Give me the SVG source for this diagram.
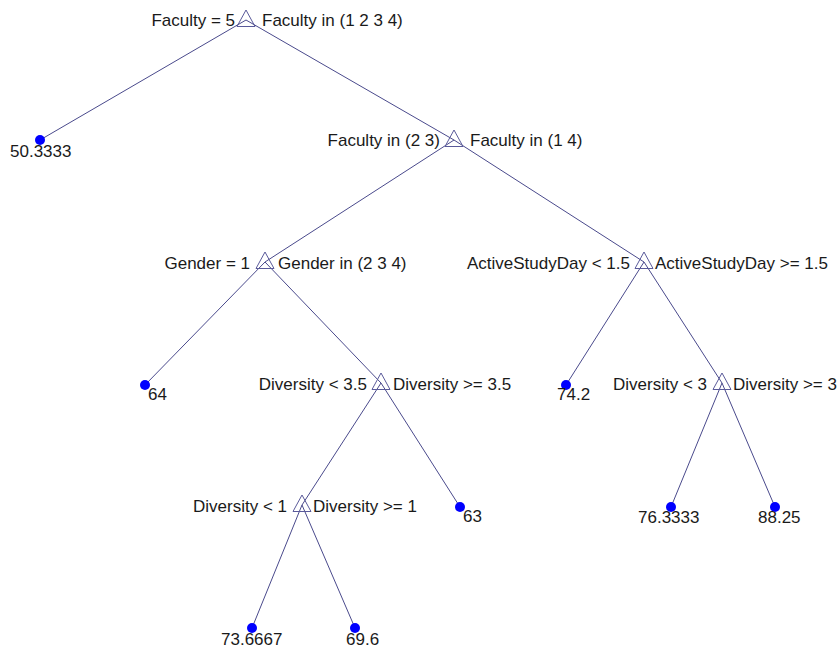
<svg xmlns="http://www.w3.org/2000/svg" width="838" height="648" viewBox="0 0 838 648">
<style>
.e{stroke:#4a4a8c;stroke-width:1;fill:none}
.tri{fill:none;stroke:#5a5a9a;stroke-width:1}
.leaf{fill:#0000ff}
text{font-family:"Liberation Sans",Arial,sans-serif;font-size:17px;fill:#1a1a1a}
.l{text-anchor:end}
</style>
<defs>
<path id="tr" d="M0,-10 L9,6.5 L-9,6.5 Z"/>
</defs>
<rect width="838" height="648" fill="#ffffff"/>
<g id="connectors">
<line class="e" x1="246" y1="20" x2="40" y2="140"/>
<line class="e" x1="246" y1="20" x2="454" y2="140"/>
<line class="e" x1="454" y1="140" x2="265" y2="262"/>
<line class="e" x1="454" y1="140" x2="644" y2="262"/>
<line class="e" x1="265" y1="262" x2="145" y2="385"/>
<line class="e" x1="265" y1="262" x2="381" y2="383"/>
<line class="e" x1="644" y1="262" x2="566" y2="385"/>
<line class="e" x1="644" y1="262" x2="722" y2="383"/>
<line class="e" x1="381" y1="383" x2="302" y2="505"/>
<line class="e" x1="381" y1="383" x2="460" y2="507"/>
<line class="e" x1="722" y1="383" x2="671" y2="507"/>
<line class="e" x1="722" y1="383" x2="775" y2="507"/>
<line class="e" x1="302" y1="505" x2="252" y2="628"/>
<line class="e" x1="302" y1="505" x2="355" y2="628"/>
</g>
<g id="n1">
<use href="#tr" class="tri" x="246" y="20"/>
<text class="l" x="235" y="26">Faculty = 5</text>
<text x="262" y="26">Faculty in (1 2 3 4)</text>
</g>
<g id="n2">
<use href="#tr" class="tri" x="454" y="140"/>
<text class="l" x="440" y="146">Faculty in (2 3)</text>
<text x="470" y="146">Faculty in (1 4)</text>
</g>
<g id="n3">
<use href="#tr" class="tri" x="265" y="262"/>
<text class="l" x="250" y="269">Gender = 1</text>
<text x="278" y="269">Gender in (2 3 4)</text>
</g>
<g id="n4">
<use href="#tr" class="tri" x="644" y="262"/>
<text class="l" x="630" y="269">ActiveStudyDay &lt; 1.5</text>
<text x="655" y="269">ActiveStudyDay &gt;= 1.5</text>
</g>
<g id="n5">
<use href="#tr" class="tri" x="381" y="383"/>
<text class="l" x="367" y="390">Diversity &lt; 3.5</text>
<text x="393" y="390">Diversity &gt;= 3.5</text>
</g>
<g id="n6">
<use href="#tr" class="tri" x="722" y="383"/>
<text class="l" x="707" y="390">Diversity &lt; 3</text>
<text x="733" y="390">Diversity &gt;= 3</text>
</g>
<g id="n7">
<use href="#tr" class="tri" x="302" y="505"/>
<text class="l" x="287" y="512">Diversity &lt; 1</text>
<text x="313" y="512">Diversity &gt;= 1</text>
</g>
<g id="leaf1"><circle class="leaf" cx="40" cy="140" r="5"/><text x="10" y="157">50.3333</text></g>
<g id="leaf2"><circle class="leaf" cx="145" cy="385" r="5"/><text x="148" y="400">64</text></g>
<g id="leaf3"><circle class="leaf" cx="566" cy="385" r="5"/><text x="557" y="400">74.2</text></g>
<g id="leaf4"><circle class="leaf" cx="460" cy="507" r="5"/><text x="463" y="522">63</text></g>
<g id="leaf5"><circle class="leaf" cx="671" cy="507" r="5"/><text x="638" y="523">76.3333</text></g>
<g id="leaf6"><circle class="leaf" cx="775" cy="507" r="5"/><text x="758" y="523">88.25</text></g>
<g id="leaf7"><circle class="leaf" cx="252" cy="628" r="5"/><text x="221" y="645">73.6667</text></g>
<g id="leaf8"><circle class="leaf" cx="355" cy="628" r="5"/><text x="346" y="645">69.6</text></g>
</svg>
